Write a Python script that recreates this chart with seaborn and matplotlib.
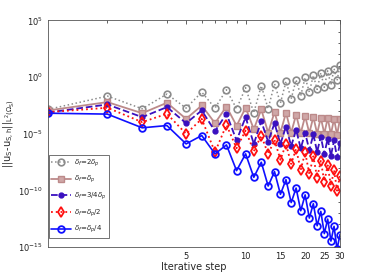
import numpy as np
import pandas as pd
import matplotlib
matplotlib.use("Agg")
from matplotlib import pyplot as plt
from matplotlib.ticker import FixedLocator, NullFormatter
import seaborn as sns

steps = list(range(1, 31))

# log10 of the error
err_2dp = [-2.86, -1.68, -2.8, -1.5, -2.74, -1.33, -2.74, -1.12, -2.8, -0.94,
           -3.16, -0.77, -2.8, -0.59, -2.3, -0.38, -1.92, -0.24, -1.65, -0.03,
           -1.33, 0.15, -1.09, 0.38, -0.91, 0.56, -0.68, 0.74, -0.3, 1.03]
err_dp = [-2.95, -2.21, -3.19, -2.27, -3.69, -2.51, -4.07, -2.6, -4.3, -2.71,
          -4.6, -2.86, -4.9, -3.1, -4.9, -3.16, -4.9, -3.33, -4.95, -3.45,
          -4.95, -3.51, -5.0, -3.57, -5.0, -3.63, -5.05, -3.69, -5.1, -3.72]
err_34dp = [-3.13, -2.42, -3.54, -2.65, -4.07, -2.95, -4.78, -3.24, -5.6, -3.54,
            -5.9, -3.9, -5.7, -4.07, -5.9, -4.37, -6.1, -4.66, -6.3, -4.93,
            -6.45, -5.07, -6.6, -5.25, -6.8, -5.43, -6.95, -5.6, -7.1, -5.85]
err_dp2 = [-3.1, -2.71, -3.98, -3.24, -5.01, -3.69, -6.64, -4.22, -6.28, -4.72,
           -6.55, -5.16, -6.8, -5.55, -7.3, -5.9, -7.67, -6.34, -8.2, -6.64,
           -8.55, -7.0, -8.9, -7.4, -9.23, -7.8, -9.6, -8.2, -10.03, -8.7]
err_dp4 = [-3.19, -3.27, -4.48, -4.28, -5.9, -5.16, -6.78, -5.99, -8.26, -6.78,
           -8.85, -7.52, -9.62, -8.35, -10.35, -9.06, -11.08, -9.8, -11.8, -10.4,
           -12.45, -11.18, -13.13, -11.86, -13.82, -12.54, -14.48, -13.18, -15.2, -13.9]

labels = [r'$\delta_f$=2$\delta_p$', r'$\delta_f$=$\delta_p$', r'$\delta_f$=3/4$\delta_p$',
          r'$\delta_f$=$\delta_p$/2', r'$\delta_f$=$\delta_p$/4']

sns.set_style("white")
plt.rcParams['font.family'] = ['DejaVu Sans']
plt.rcParams['mathtext.fontset'] = 'dejavusans'

fig = plt.figure(figsize=(3.74, 2.8), dpi=100)
ax = fig.add_axes([0.128, 0.118, 0.781, 0.809])

styles = [
    dict(color='#8c8c8c', linestyle=':', marker='o', markersize=4.8, markerfacecolor='none',
         markeredgecolor='#8c8c8c', markeredgewidth=1.2, linewidth=1.1),
    dict(color='#bc8a8a', linestyle='-', marker='s', markersize=4, markerfacecolor='#cfa7a7',
         markeredgecolor='#bc8a8a', markeredgewidth=1.0, linewidth=1.3),
    dict(color='#3a10c0', linestyle='--', marker='o', markersize=3.5, markerfacecolor='#3a10c0',
         markeredgecolor='#3a10c0', markeredgewidth=1.0, linewidth=1.3),
    dict(color='#ff1010', linestyle=':', marker='d', markersize=4.8, markerfacecolor='none',
         markeredgecolor='#ff1010', markeredgewidth=1.3, linewidth=1.3),
    dict(color='#1010ff', linestyle='-', marker='o', markersize=4.8, markerfacecolor='none',
         markeredgecolor='#1010ff', markeredgewidth=1.3, linewidth=1.2),
]
series = [err_2dp, err_dp, err_34dp, err_dp2, err_dp4]

for vals, lab, st in zip(series, labels, styles):
    df = pd.DataFrame({'step': steps, 'err': 10.0 ** np.array(vals)})
    sns.lineplot(data=df, x='step', y='err', ax=ax, label=lab, **st)

ax.set_xscale('log')
ax.set_yscale('log')
ax.set_xlim(1, 30)
ax.set_ylim(1e-15, 1e5)

ax.xaxis.set_major_locator(FixedLocator([5, 10, 15, 20, 25, 30]))
ax.xaxis.set_minor_locator(FixedLocator([2, 3, 4, 6, 7, 8, 9]))
ax.xaxis.set_minor_formatter(NullFormatter())
ax.set_xticklabels(['5', '10', '15', '20', '25', '30'])
ax.yaxis.set_major_locator(FixedLocator([1e-15, 1e-10, 1e-5, 1e0, 1e5]))
ax.yaxis.set_minor_locator(FixedLocator([10.0 ** k for k in range(-15, 6)]))
ax.yaxis.set_minor_formatter(NullFormatter())

ax.tick_params(which='both', direction='in', top=True, right=True,
               labelsize=6, colors='#222222', width=0.5)
ax.tick_params(which='major', length=3)
ax.tick_params(which='minor', length=1.8)
for sp in ax.spines.values():
    sp.set_linewidth(0.6)
    sp.set_color('#555555')

ax.set_xlabel('Iterative step', fontsize=7, labelpad=1)
ax.set_ylabel(r'$||\mathrm{u_S}$-$\mathrm{u_{S,h}}||_{\mathrm{L^2(\Omega_S)}}$', fontsize=7, labelpad=1)

leg = ax.legend(loc='lower left', bbox_to_anchor=(0.004, 0.04), fontsize=5,
                frameon=True, fancybox=False, edgecolor='#333333', borderaxespad=0,
                handlelength=2.8, handletextpad=0.4, labelspacing=0.75, borderpad=0.35)
leg.get_frame().set_linewidth(0.6)

fig.savefig('out.png', dpi=100)
